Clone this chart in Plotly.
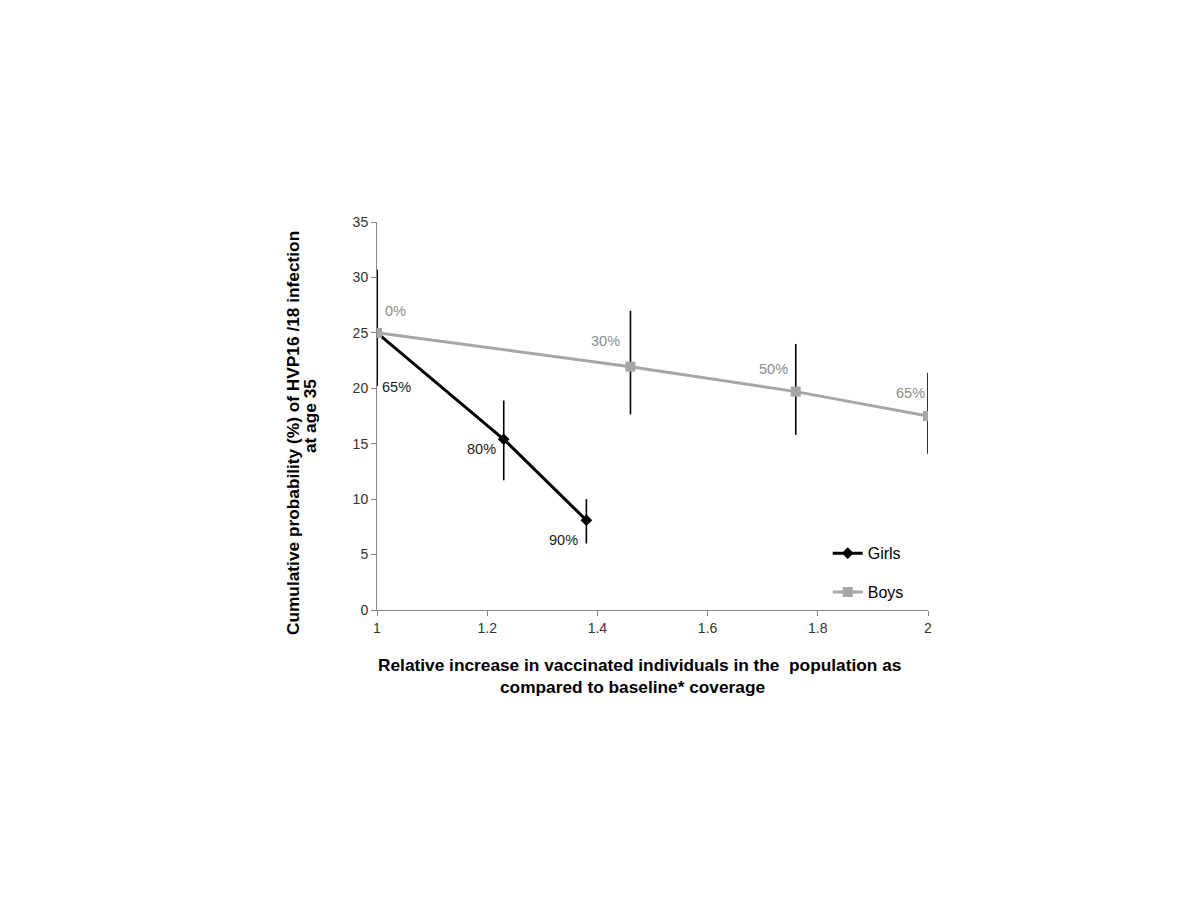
import plotly.graph_objects as go

# Data
girls_x = [1.0, 1.23, 1.38]
girls_y = [25.0, 15.4, 8.1]
girls_err_plus = [5.7, 3.5, 1.9]
girls_err_minus = [4.8, 3.7, 2.1]
girls_labels = ["65%", "80%", "90%"]

boys_x = [1.0, 1.46, 1.76, 2.0]
boys_y = [25.0, 21.95, 19.7, 17.5]
boys_err_plus = [5.7, 5.05, 4.3, 3.9]
boys_err_minus = [4.8, 4.3, 3.9, 3.4]
boys_labels = ["0%", "30%", "50%", "65%"]

x_ticks = [1, 1.2, 1.4, 1.6, 1.8, 2]
y_ticks = [0, 5, 10, 15, 20, 25, 30, 35]

x_title_lines = ["Relative increase in vaccinated individuals in the&nbsp; population as",
                 "compared to baseline* coverage"]
y_title_lines = ["Cumulative probability (%) of HVP16 /18 infection", "at age 35"]

FONT = "Liberation Sans, Arial, sans-serif"
GRAY = "#A6A6A6"

fig = go.Figure()

fig.add_trace(go.Scatter(
    x=girls_x, y=girls_y, name="Girls", legendgroup="girls", mode="lines+markers",
    line=dict(color="black", width=3),
    marker=dict(symbol="diamond", size=9, color="black"),
    error_y=dict(type="data", symmetric=False, array=girls_err_plus,
                 arrayminus=girls_err_minus, color="black", thickness=1.6, width=0),
))
fig.add_trace(go.Scatter(
    x=boys_x, y=boys_y, name="Boys", legendgroup="boys", mode="lines+markers",
    line=dict(color=GRAY, width=3),
    marker=dict(symbol="square", size=10, color=GRAY),
    error_y=dict(type="data", symmetric=False, array=boys_err_plus,
                 arrayminus=boys_err_minus, color="black", thickness=1.6, width=0),
))

# data label offsets (pixels)
girls_shift = [(19, -54), (-22, -10), (-23, -20)]
boys_shift = [(18, 22), (-25, 26), (-22, 23), (-18, 23)]

for x, y, t, (dx, dy) in zip(girls_x, girls_y, girls_labels, girls_shift):
    fig.add_annotation(x=x, y=y, text=t, showarrow=False, xshift=dx, yshift=dy,
                       font=dict(family=FONT, size=14.5, color="#222222"))
for x, y, t, (dx, dy) in zip(boys_x, boys_y, boys_labels, boys_shift):
    fig.add_annotation(x=x, y=y, text=t, showarrow=False, xshift=dx, yshift=dy,
                       font=dict(family=FONT, size=14.5, color="#8C8C8C"))

# axis titles as separate lines
title_font = dict(family=FONT, size=17.3, color="black")
for t, xp, yp in zip(x_title_lines, [0.4773, 0.4646], [-0.1418, -0.1985]):
    fig.add_annotation(xref="paper", yref="paper", x=xp, y=yp, text="<b>" + t + "</b>",
                       showarrow=False, font=title_font, xanchor="center", yanchor="middle")
for t, xp, yp in zip(y_title_lines, [-0.1525, -0.1215], [0.456, 0.50]):
    fig.add_annotation(xref="paper", yref="paper", x=xp, y=yp, text="<b>" + t + "</b>",
                       showarrow=False, font=title_font, textangle=-90,
                       xanchor="center", yanchor="middle")

fig.update_layout(
    width=1200, height=900,
    paper_bgcolor="white", plot_bgcolor="white",
    margin=dict(l=369, r=280, t=214, b=298),
    font=dict(family=FONT, size=14, color="#333333"),
    showlegend=True,
    legend=dict(x=0.818, y=0.19, xanchor="left", yanchor="top",
                bgcolor="rgba(0,0,0,0)", font=dict(size=16, color="black"),
                tracegroupgap=15, itemwidth=30),
    xaxis=dict(
        range=[1, 2], tickvals=x_ticks, ticktext=[str(v) for v in x_ticks],
        showgrid=False, zeroline=False, showline=True, linecolor="#868686", linewidth=1,
        ticks="outside", ticklen=5, tickcolor="#868686",
        tickfont=dict(size=14, color="#333333"),
    ),
    yaxis=dict(
        range=[0, 35], tickvals=y_ticks,
        showgrid=False, zeroline=False, showline=True, linecolor="#868686", linewidth=1,
        ticks="outside", ticklen=5, tickcolor="#868686",
        tickfont=dict(size=14, color="#333333"),
    ),
)

fig.write_html("out.html")
